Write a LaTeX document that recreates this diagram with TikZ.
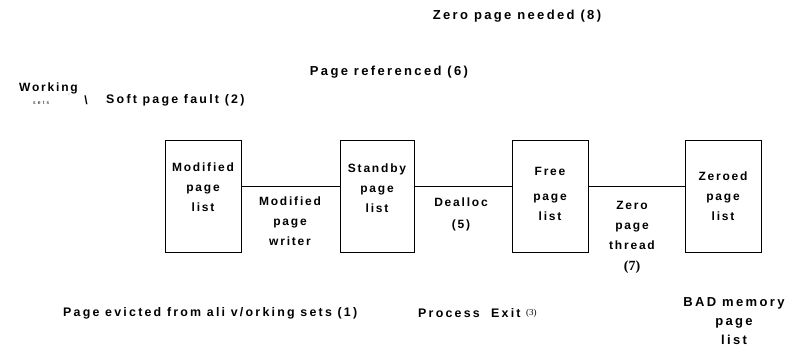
\documentclass[tikz,border=0pt]{standalone}
\usepackage{fontspec}
\setmainfont{Liberation Sans}
\newfontfamily\lblfont[LetterSpace=15]{Liberation Sans}
\newfontfamily\widefont[LetterSpace=18]{Liberation Sans}
\newfontfamily\numfont{Liberation Serif}
\usetikzlibrary{positioning}

\begin{document}
\begin{tikzpicture}[x=1pt, y=-1pt,
    lbl/.style={font=\lblfont\bfseries\fontsize{12}{20}\selectfont, align=center, inner sep=0pt},
    event/.style={font=\widefont\bfseries\fontsize{13}{19}\selectfont, align=center, inner sep=0pt},
    tiny/.style={font=\widefont\fontsize{5}{6}\selectfont, inner sep=0pt},
    listbox/.style={draw, line width=1pt, minimum width=76pt, minimum height=111pt, inner sep=0pt},
    link/.style={line width=1pt}]
  \useasboundingbox (0,0) rectangle (801,350);
  % page lists
  \node[listbox] (mod) at (203,196.5) {};
  \node[listbox, minimum width=74pt, right=98pt of mod] (stb) {};
  \node[listbox, right=97pt of stb] (free) {};
  \node[listbox, right=96pt of free] (zero) {};
  \node[lbl, yshift=9.5pt] (modt) at (mod) {Modified\\page\\list};
  \node[lbl, yshift=8.5pt] (stbt) at (stb) {Standby\\page\\list};
  \node[lbl, yshift=2.5pt] (freet) at (free) {Free\\[5pt]page\\list};
  \node[lbl] (zerot) at (zero) {Zeroed\\page\\list};
  \foreach \a/\b in {mod/stb, stb/free, free/zero}
    \draw[link] ([yshift=9.5pt]\a.east) -- ([yshift=9.5pt]\b.west);
  % transitions
  \node[lbl] (writer) at (290,221) {Modified\\page\\writer};
  \node[lbl, font=\lblfont\bfseries\fontsize{12}{22}\selectfont] (dealloc) at (461,214) {Dealloc\\(5)};
  \node[lbl] (zthread) at (632,225) {Zero\\page\\thread};
  \node[font=\numfont\bfseries\fontsize{14}{16}\selectfont, inner sep=0pt, below=11pt of zthread] (seven) {(7)};
  \node[event] (bad) at (734,321) {BAD memory\\page\\list};
  \node[event] (needed) at (517,16) {Zero page needed (8)};
  \node[event] (referenced) at (389,72) {Page referenced (6)};
  \node[lbl, anchor=west] (working) at (19,88) {Working};
  \node[tiny, anchor=west] (sets) at (33,103) {s e t s};
  \node[tiny] (tick) at (69,96) {'};
  \node[lbl] (slash) at (86,100) {\textbackslash};
  \node[event, font=\widefont\bfseries\fontsize{12.4}{15}\selectfont, anchor=west] (soft) at (106,100) {Soft page fault (2)};
  \node[event, font=\widefont\bfseries\fontsize{12.4}{15}\selectfont, anchor=west] (evicted) at (63,313) {Page evicted from ali v/orking sets (1)};
  \node[event, font=\widefont\bfseries\fontsize{12.4}{15}\selectfont, anchor=west] (exit) at (418,313) {Process\ \ Exit};
  \node[font=\numfont\fontsize{9}{11}\selectfont, inner sep=0pt, right=5pt of exit] (three) {(3)};
\end{tikzpicture}
\end{document}
